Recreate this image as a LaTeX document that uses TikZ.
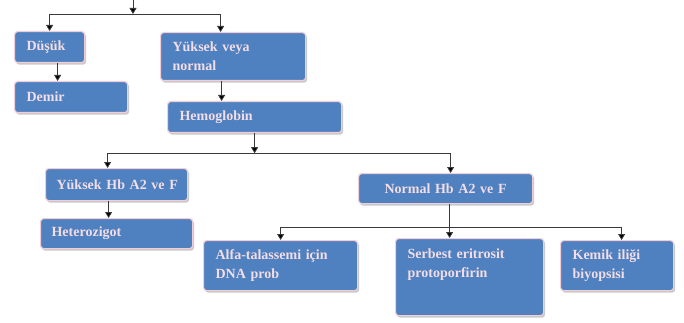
\documentclass[tikz,border=0pt]{standalone}
\usepackage{fontspec}
\setmainfont{Liberation Serif}
\usetikzlibrary{arrows.meta,shadows,positioning}
\definecolor{boxblue}{HTML}{4F80C0}
\definecolor{boxedge}{HTML}{F2CDD6}
\definecolor{boxtext}{HTML}{F3DDE6}
\definecolor{linegray}{HTML}{3A3A3A}

\begin{document}
\begin{tikzpicture}[x=1pt, y=-1pt, box/.style = {draw=boxedge, line width=1.2pt,
	fill=boxblue, rounded corners=3pt, anchor=north west, align=left, text=boxtext,
	drop shadow={shadow xshift=1.5pt, shadow yshift=-2pt, fill=gray!60, opacity=0.7},
	inner xsep=12pt, inner ysep=4pt, font=\fontsize{14}{19}\selectfont\bfseries},
	line/.style = {draw=linegray, line width=0.8pt},
	edge/.style = {line, -{Triangle[width=7pt,length=6pt,fill=black]}}]

	\useasboundingbox (0,0) rectangle (684,323);

	\node (dusuk) [box, text width=46pt, minimum height=31pt] at (14,31) {Düşük};
	\node (demir) [box, text width=89pt, minimum height=31pt] at (14,81) {Demir};
	\node (yuksek) [box, text width=121pt, minimum height=48pt] at (160,32) {Yüksek veya\\normal};
	\node (hemoglobin) [box, text width=150pt, minimum height=31pt] at (167,101) {Hemoglobin};

	\node (yuksekhb) [box, text width=126pt, inner xsep=8pt, minimum height=32pt] at (45,168) {\hspace*{3pt}Yüksek Hb A2 ve F};
	\node (heterozigot) [box, text width=130pt, inner xsep=11pt, minimum height=30pt] at (40,218) {Heterozigot};
	\node (normalhb) [box, text width=150pt, align=center, minimum height=30pt] at (358,173) {Normal Hb A2 ve F};

	\node (alfa) [box, text width=130pt, minimum height=50pt] at (203,240) {Alfa-talassemi için\\DNA prob};
	\node (serbest) [box, text width=124pt, minimum height=77pt, text depth=46pt] at (395,238) {Serbest eritrosit\\protoporfirin};
	\node (kemik) [box, text width=89pt, minimum height=50pt] at (560,240) {Kemik iliği\\biyopsisi};

	% Connectors
	\coordinate (top) at (133,0);
	\coordinate (split1) at (133,14);
	\draw[edge] (top) -- (split1);
	\draw[edge] (split1) -| (dusuk.north);
	\draw[edge] (split1) -| ([xshift=-12.5pt]yuksek.north);

	\coordinate (d1) at ([xshift=8pt]dusuk.south);
	\draw[edge] (d1) -- (d1 |- demir.north);
	\coordinate (y1) at ([xshift=-11.5pt]yuksek.south);
	\draw[edge] (y1) -- (y1 |- hemoglobin.north);

	\coordinate (split2) at ([yshift=-20pt]hemoglobin.south);
	\draw[edge] (hemoglobin.south) -- (split2);
	\draw[edge] (split2) -| ([xshift=-9pt]yuksekhb.north);
	\draw[edge] (split2) -| ([xshift=5pt]normalhb.north);

	\coordinate (h1) at ([xshift=-8pt]yuksekhb.south);
	\draw[edge] (h1) -- (h1 |- heterozigot.north);

	\coordinate (n1) at ([xshift=4pt]normalhb.south);
	\coordinate (split3) at ([yshift=-23pt]n1);
	\draw[line] (n1) -- (split3);
	\draw[edge] (split3) -| (alfa.north);
	\draw[edge] (split3) -- (split3 |- serbest.north);
	\draw[edge] (split3) -| ([xshift=4.5pt]kemik.north);
\end{tikzpicture}
\end{document}
